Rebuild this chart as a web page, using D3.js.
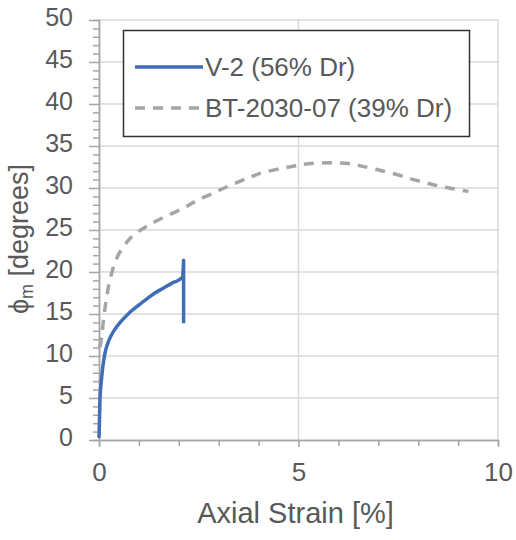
<!DOCTYPE html>
<html>
<head>
<meta charset="utf-8">
<script src="https://cdn.jsdelivr.net/npm/d3@7/dist/d3.min.js"></script>
<style>
  html, body { margin: 0; padding: 0; background: #fff; }
  svg text { font-family: "Liberation Sans", Arial, sans-serif; fill: #595959; }
</style>
</head>
<body>
<svg id="chart" width="516" height="540"></svg>
<script>
// Friction angle vs axial strain for two triaxial tests
const seriesNames = ["V-2 (56% Dr)", "BT-2030-07 (39% Dr)"];

const v2Strain = [0.0, 0.01, 0.02, 0.03, 0.05, 0.07, 0.10, 0.14, 0.19, 0.28, 0.40, 0.57, 0.75, 0.98, 1.20, 1.40, 1.62, 1.82, 1.98, 2.10, 2.12, 2.12];
const v2Phi    = [0.4, 2.0, 4.0, 5.5, 6.6, 7.6, 8.9, 10.1, 11.1, 12.2, 13.2, 14.2, 15.1, 16.0, 16.8, 17.5, 18.1, 18.65, 19.0, 19.4, 21.4, 13.9];

const btStrain = [0.02, 0.07, 0.12, 0.19, 0.28, 0.48, 0.82, 1.15, 1.57, 2.07, 2.41, 2.82, 3.33, 3.74, 4.08, 4.54, 4.87, 5.25, 5.83, 6.29, 6.58, 6.96, 7.46, 7.88, 8.21, 8.55, 8.88, 9.26];
const btPhi    = [11.0, 12.4, 14.6, 16.9, 19.2, 22.0, 24.2, 25.3, 26.4, 27.5, 28.4, 29.3, 30.4, 31.2, 31.8, 32.3, 32.6, 32.9, 33.0, 32.9, 32.6, 32.2, 31.6, 31.0, 30.6, 30.2, 29.9, 29.6];

const xMajorTicks = [0, 5, 10];
const xMinorTicks = [1, 2, 3, 4, 6, 7, 8, 9];
const yMajorTicks = [0, 5, 10, 15, 20, 25, 30, 35, 40, 45, 50];
const yMinorTicks = d3.range(0, 51).filter(v => v % 5 !== 0);

const svg = d3.select("#chart");
const margin = { left: 99, right: 18, top: 20, bottom: 100 };
const W = 516, H = 540;

const x = d3.scaleLinear().domain([0, 10]).range([margin.left, W - margin.right]);
const y = d3.scaleLinear().domain([0, 50]).range([H - margin.bottom, margin.top]);

const gridColor = "#d9d9d9";
const axisColor = "#a6a6a6";
const v2Color = "#3f6db6";
const btColor = "#a5a5a5";

// gridlines
svg.append("g")
  .selectAll("line.h")
  .data(yMajorTicks.filter(v => v > 0))
  .join("line")
  .attr("x1", x(0)).attr("x2", x(10))
  .attr("y1", d => y(d)).attr("y2", d => y(d))
  .attr("stroke", gridColor).attr("stroke-width", 1.5);

svg.append("g")
  .selectAll("line.v")
  .data(xMajorTicks.filter(v => v > 0))
  .join("line")
  .attr("x1", d => x(d)).attr("x2", d => x(d))
  .attr("y1", y(0)).attr("y2", y(50))
  .attr("stroke", gridColor).attr("stroke-width", 1.5);

// axes
function styleAxis(g) {
  g.select(".domain").attr("stroke", axisColor).attr("stroke-width", 1.5);
  g.selectAll(".tick line").attr("stroke", axisColor).attr("stroke-width", 1.5);
}

const xAxisMinor = svg.append("g")
  .attr("transform", `translate(0,${y(0)})`)
  .call(d3.axisBottom(x).tickValues(xMinorTicks).tickSize(6).tickFormat(""));
styleAxis(xAxisMinor);

const xAxis = svg.append("g")
  .attr("transform", `translate(0,${y(0)})`)
  .call(d3.axisBottom(x).tickValues(xMajorTicks).tickSize(7).tickSizeOuter(0).tickPadding(16).tickFormat(d3.format("d")));
styleAxis(xAxis);
xAxis.selectAll(".tick text")
  .attr("font-size", 26).attr("fill", "#595959")
  .attr("font-family", "Liberation Sans, Arial, sans-serif");

const yAxisMinor = svg.append("g")
  .attr("transform", `translate(${x(0)},0)`)
  .call(d3.axisLeft(y).tickValues(yMinorTicks).tickSize(6).tickFormat(""));
styleAxis(yAxisMinor);

const yAxis = svg.append("g")
  .attr("transform", `translate(${x(0)},0)`)
  .call(d3.axisLeft(y).tickValues(yMajorTicks).tickSize(10).tickSizeOuter(0).tickPadding(16).tickFormat(d3.format("d")));
styleAxis(yAxis);
yAxis.selectAll(".tick text")
  .attr("font-size", 25).attr("fill", "#595959").attr("dy", "0.2em")
  .attr("font-family", "Liberation Sans, Arial, sans-serif");

// series
const v2 = v2Strain.map((s, i) => [s, v2Phi[i]]);
const bt = btStrain.map((s, i) => [s, btPhi[i]]);
const smooth = d3.line().x(d => x(d[0])).y(d => y(d[1])).curve(d3.curveCatmullRom.alpha(0.5));
const straight = d3.line().x(d => x(d[0])).y(d => y(d[1]));

svg.append("path")
  .datum(bt)
  .attr("d", smooth)
  .attr("fill", "none")
  .attr("stroke", btColor)
  .attr("stroke-width", 3.5)
  .attr("stroke-dasharray", "10,8");

// V-2: smooth loading branch, then the vertical scatter at the final strain
const v2Loading = v2.slice(0, v2.length - 2);
const v2End = v2.slice(v2.length - 3);
svg.append("path")
  .datum(v2Loading)
  .attr("d", smooth)
  .attr("fill", "none")
  .attr("stroke", v2Color)
  .attr("stroke-width", 3.5)
  .attr("stroke-linecap", "round");
svg.append("path")
  .datum(v2End)
  .attr("d", straight)
  .attr("fill", "none")
  .attr("stroke", v2Color)
  .attr("stroke-width", 3.5)
  .attr("stroke-linejoin", "round");

// axis titles
svg.append("text")
  .attr("x", (x(0) + x(10)) / 2 - 3)
  .attr("y", 523)
  .attr("text-anchor", "middle")
  .attr("font-size", 29)
  .text("Axial Strain [%]");

const yTitle = svg.append("text")
  .attr("transform", `translate(28,${(y(0) + y(50)) / 2 + 9}) rotate(-90)`)
  .attr("text-anchor", "middle")
  .attr("font-size", 27);
yTitle.append("tspan").text("ϕ");
yTitle.append("tspan").attr("font-size", 18).attr("baseline-shift", "-25%").text("m");
yTitle.append("tspan").text(" [degrees]");

// legend
const legend = svg.append("g");
legend.append("rect")
  .attr("x", 123.5).attr("y", 30.5)
  .attr("width", 346).attr("height", 106)
  .attr("fill", "#fff")
  .attr("stroke", "#333").attr("stroke-width", 1.5);

const legendItems = [
  { name: seriesNames[0], color: v2Color, dash: null, cy: 67 },
  { name: seriesNames[1], color: btColor, dash: "10,8", cy: 108 }
];
legendItems.forEach(it => {
  legend.append("line")
    .attr("x1", 135).attr("x2", 203)
    .attr("y1", it.cy).attr("y2", it.cy)
    .attr("stroke", it.color).attr("stroke-width", 3.5)
    .attr("stroke-dasharray", it.dash);
  legend.append("text")
    .attr("x", 205).attr("y", it.cy + 9)
    .attr("font-size", 26)
    .text(it.name);
});
</script>
</body>
</html>
